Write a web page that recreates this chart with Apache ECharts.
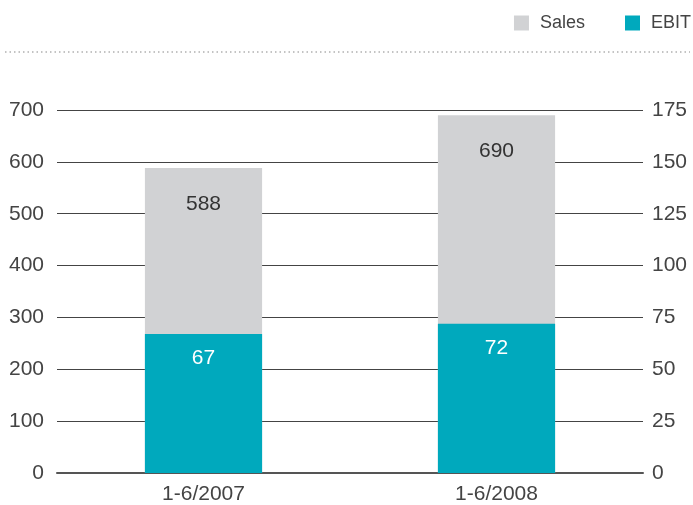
<!DOCTYPE html>
<html><head><meta charset="utf-8">
<script src="https://cdn.jsdelivr.net/npm/echarts@6/dist/echarts.min.js"></script>
<style>html,body{margin:0;padding:0;background:#fff}#c{width:693px;height:505px}</style>
</head><body><div id="c"></div>
<script>
const categories = ['1-6/2007', '1-6/2008'];
const sales = [588, 690];
const ebit = [67, 72];
const leftTicks = {min: 0, max: 700, interval: 100};
const rightTicks = {min: 0, max: 175, interval: 25};

const font = '"Liberation Sans", Arial, sans-serif';
const chart = echarts.init(document.getElementById('c'));
chart.setOption({
  animation: false,
  textStyle: {fontFamily: font},
  legend: {
    top: 9, right: -3, itemWidth: 15, itemHeight: 15, itemGap: 40,
    icon: 'rect',
    textStyle: {fontSize: 18, color: '#444', fontFamily: font, padding: [0, 0, 0, 6]},
    data: ['Sales', 'EBIT']
  },
  graphic: [{
    type: 'line', shape: {x1: 5, y1: 52, x2: 690, y2: 52},
    style: {stroke: '#888', lineWidth: 1.2, lineDash: [1.5, 3]}
  }],
  grid: {left: 57, right: 50, top: 110, bottom: 32},
  xAxis: {
    type: 'category', data: categories,
    axisLine: {lineStyle: {color: '#555', width: 2}},
    axisTick: {show: false},
    axisLabel: {fontSize: 21, color: '#444', margin: 11}
  },
  yAxis: [{
    type: 'value', min: leftTicks.min, max: leftTicks.max, interval: leftTicks.interval,
    axisLine: {show: false}, axisTick: {show: false},
    axisLabel: {fontSize: 21, color: '#444', margin: 13},
    splitLine: {lineStyle: {color: '#444', width: 1}}
  }, {
    type: 'value', min: rightTicks.min, max: rightTicks.max, interval: rightTicks.interval,
    axisLine: {show: false}, axisTick: {show: false},
    axisLabel: {fontSize: 21, color: '#444', margin: 9},
    splitLine: {show: false}
  }],
  series: [{
    name: 'Sales', type: 'bar', data: sales, yAxisIndex: 0,
    barWidth: '40%', barGap: '-100%',
    itemStyle: {color: '#d1d2d4'},
    label: {show: true, position: 'insideTop', distance: 26, fontSize: 21, color: '#333'}
  }, {
    name: 'EBIT', type: 'bar', data: ebit, yAxisIndex: 1,
    barWidth: '40%', barGap: '-100%',
    itemStyle: {color: '#00a9bd'},
    label: {show: true, position: 'insideTop', distance: 14, fontSize: 21, color: '#fff'}
  }]
});
</script></body></html>
